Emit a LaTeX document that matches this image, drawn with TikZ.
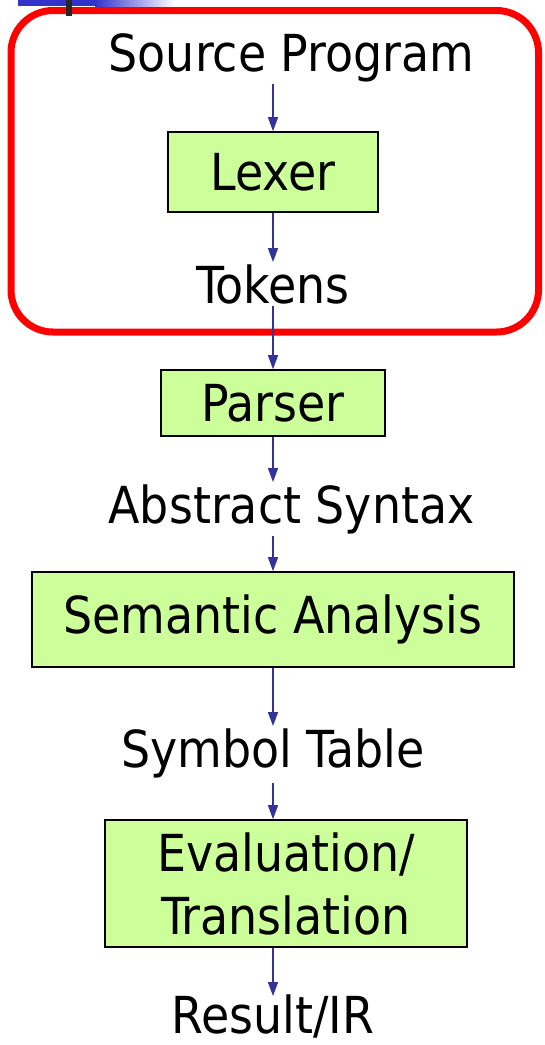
\documentclass[tikz,border=0pt]{standalone}
\usepackage{fontspec}
\setmainfont{DejaVu Sans Condensed}
\usetikzlibrary{arrows.meta}
\definecolor{stagefill}{HTML}{CCFF99}
\definecolor{flowblue}{HTML}{333399}
\definecolor{barblue}{HTML}{3333CC}
\begin{document}
\begin{tikzpicture}[x=1pt,y=-1pt]
	\tikzstyle{stage}=[draw=black,line width=1.6pt,fill=stagefill,inner sep=0pt,font=\fontsize{51}{63}\selectfont]
	\tikzstyle{datum}=[anchor=base,inner sep=2pt,font=\fontsize{51}{63}\selectfont]
	\tikzstyle{flow}=[draw=flowblue,line width=1.4pt,-{Triangle[length=14pt,width=10pt]}]

	\useasboundingbox (0,0) rectangle (545,1045);

	% the lexing phase
	\draw[red,line width=7pt,rounded corners=42pt] (11,10.5) rectangle (538.5,332);

	% title bar remains
	\fill[barblue] (18,0) rectangle (95,6);
	\shade[left color=barblue,right color=white] (95,0) rectangle (175,6);
	\fill[black!85] (66,0) rectangle (72,16);

	\node [datum] (src) at (291.5,71) {Source Program};
	\node [stage,minimum width=210pt,minimum height=80pt] (lexer) at (273,172) {Lexer};
	\node [datum] (tokens) at (273,303) {Tokens};
	\node [stage,minimum width=224pt,minimum height=66pt] (parser) at (273,403) {Parser};
	\node [datum] (ast) at (291.5,523) {Abstract Syntax};
	\node [stage,minimum width=482pt,minimum height=95pt] (sema) at (273,619.5) {Semantic Analysis};
	\node [datum] (symtab) at (273,767) {Symbol Table};
	\node [stage,minimum width=362pt,minimum height=127pt,align=center] (eval) at (286,883.5) {Evaluation/\\Translation};
	\node [datum,inner sep=0pt] (result) at (273,1033) {Result/IR};

	\path[flow] (src.south -| lexer.north) -- (lexer.north);
	\path[flow] (lexer.south) -- (lexer.south |- tokens.north);
	\path[flow] (lexer.south |- tokens.south) -- (parser.north);
	\path[flow] (parser.south) -- (parser.south |- ast.north);
	\path[flow] (parser.south |- ast.south) -- (sema.north);
	\path[flow] (sema.south) -- (sema.south |- symtab.north);
	\path[flow] (symtab.base) ++(0,16) -- (symtab.base |- eval.north);
	\path[flow] (symtab.base |- eval.south) -- ([yshift=-2pt]symtab.base |- result.north);

\end{tikzpicture}
\end{document}
